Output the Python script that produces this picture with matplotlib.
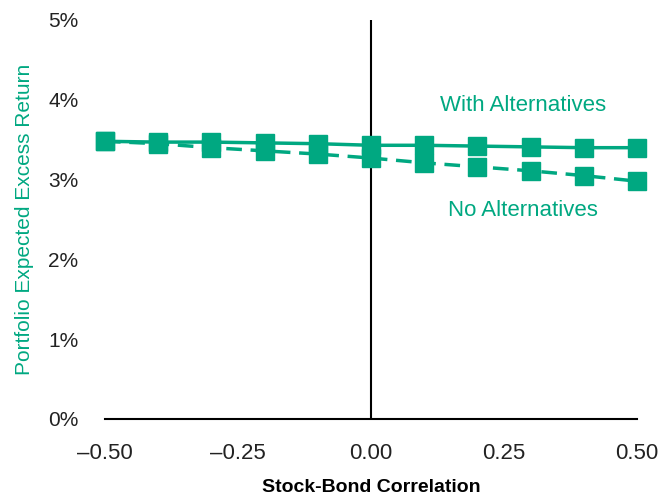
import matplotlib.pyplot as plt
from matplotlib.ticker import FuncFormatter

corr = [-0.5, -0.4, -0.3, -0.2, -0.1, 0.0, 0.1, 0.2, 0.3, 0.4, 0.5]
with_alts = [3.48, 3.47, 3.47, 3.46, 3.45, 3.43, 3.43, 3.42, 3.41, 3.40, 3.40]
no_alts = [3.48, 3.45, 3.40, 3.36, 3.32, 3.27, 3.21, 3.16, 3.11, 3.05, 2.98]

green = "#00A881"
plt.rcParams['font.family'] = ['Liberation Sans', 'DejaVu Sans']

fig = plt.figure(figsize=(6.64, 4.97), dpi=100)
ax = fig.add_axes([105 / 664, 1 - 419 / 497, 532 / 664, 399 / 497])

ax.plot(corr, no_alts, color=green, lw=2.5, ls=(0, (4.5, 2.5)), marker='s', ms=13,
        zorder=3, clip_on=False)
ax.plot(corr, with_alts, color=green, lw=2.5, marker='s', ms=13, zorder=4, clip_on=False)

ax.set_xlim(-0.5, 0.5)
ax.set_ylim(0, 5)
ax.set_xticks([-0.5, -0.25, 0, 0.25, 0.5])
ax.xaxis.set_major_formatter(FuncFormatter(lambda v, p: f"{v:.2f}".replace("-", "\u2013")))
ax.yaxis.set_major_formatter(FuncFormatter(lambda v, p: f"{v:.0f}%"))
ax.tick_params(length=0, colors='#222222')
ax.tick_params(axis='x', pad=17, labelsize=16)
ax.tick_params(axis='y', pad=19, labelsize=15)

for s in ['top', 'right', 'left']:
    ax.spines[s].set_visible(False)
ax.spines['bottom'].set_linewidth(1.5)
ax.axvline(0, color='black', lw=1.5, zorder=2)

ax.set_xlabel("Stock-Bond Correlation", fontsize=14, fontweight='bold',
              family=['Liberation Sans Narrow', 'Liberation Sans'], labelpad=11)
ax.set_ylabel("Portfolio Expected Excess Return", fontsize=15, color=green, labelpad=10)

ax.text(0.285, 3.93, "With Alternatives", color=green, fontsize=16, ha='center', va='center')
ax.text(0.285, 2.61, "No Alternatives", color=green, fontsize=16, ha='center', va='center')

fig.savefig("out.png", dpi=100)
